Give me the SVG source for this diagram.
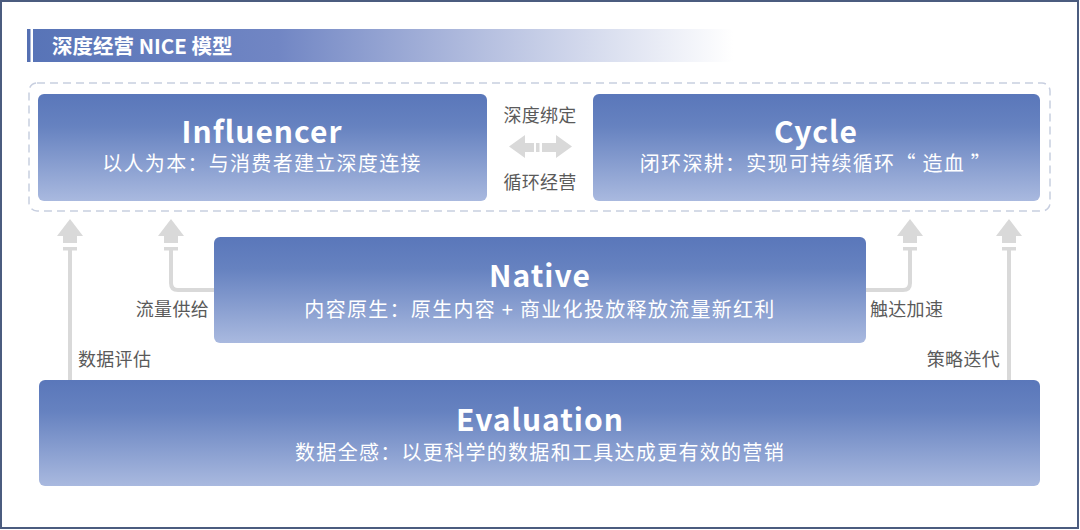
<svg xmlns="http://www.w3.org/2000/svg" width="1080" height="530" viewBox="0 0 1080 530">
<defs>
<linearGradient id="boxg" x1="0" y1="0" x2="0" y2="1">
<stop offset="0" stop-color="#5a77ba"/>
<stop offset="0.3" stop-color="#6682c0"/>
<stop offset="1" stop-color="#a9b9df"/>
</linearGradient>
<linearGradient id="titleg" x1="0" y1="0" x2="1" y2="0">
<stop offset="0" stop-color="#5874b7"/>
<stop offset="0.35" stop-color="#7186c4"/>
<stop offset="0.65" stop-color="#b6c0e0"/>
<stop offset="1" stop-color="#ffffff"/>
</linearGradient>
<g id="uphead">
<polygon points="-13,236 0,219 13,236"/>
<rect x="-7" y="235.5" width="14" height="7.5"/>
<rect x="-7" y="247" width="14" height="3.5"/>
</g>
<style>
.box{fill:url(#boxg)}
.t{font-family:"Noto Sans CJK SC","Noto Sans",sans-serif;font-weight:bold;font-size:30px;fill:#fff;text-anchor:middle;letter-spacing:1px}
.s{font-family:"Noto Sans CJK SC","Noto Sans",sans-serif;font-size:20px;fill:#fff;text-anchor:middle;letter-spacing:1.3px}
.lab{font-family:"Noto Sans CJK SC","Noto Sans",sans-serif;font-size:18px;fill:#5a5a5a;letter-spacing:0.3px}
.ln{fill:none;stroke:#d9d9d9;stroke-width:4}
.ah{fill:#d9d9d9}
</style>
</defs>
<rect x="0" y="0" width="1080" height="530" fill="#ffffff"/>
<rect x="1" y="1" width="1077" height="527" fill="none" stroke="#4b5c7f" stroke-width="2"/>

<g id="title">
<rect x="27" y="29" width="3.5" height="33" fill="#5570b2"/>
<rect x="33" y="29" width="700" height="33" fill="url(#titleg)"/>
<text x="52" y="54" font-family="'Noto Sans CJK SC','Noto Sans',sans-serif" font-weight="bold" font-size="20.5" fill="#fff">深度经营 NICE 模型</text>
</g>

<g id="container">
<rect x="29" y="83" width="1021" height="128" rx="8" fill="none" stroke="#c8cfe0" stroke-width="1.5" stroke-dasharray="8 5"/>
</g>

<g id="influencer">
<rect class="box" x="38" y="94" width="449" height="107" rx="6"/>
<text class="t" x="262" y="143">Influencer</text>
<text class="s" x="262" y="171">以人为本：与消费者建立深度连接</text>
</g>

<g id="cycle">
<rect class="box" x="593" y="94" width="447" height="107" rx="6"/>
<text class="t" x="816" y="143">Cycle</text>
<text class="s" x="816" y="171">闭环深耕：实现可持续循环“ 造血 ”</text>
</g>

<g id="native">
<rect class="box" x="214" y="237" width="652" height="106" rx="6"/>
<text class="t" x="540" y="287">Native</text>
<text class="s" x="540" y="317">内容原生：原生内容 + 商业化投放释放流量新红利</text>
</g>

<g id="evaluation">
<rect class="box" x="39" y="380" width="1001" height="106" rx="6"/>
<text class="t" x="540" y="431">Evaluation</text>
<text class="s" x="540" y="460">数据全感：以更科学的数据和工具达成更有效的营销</text>
</g>

<g id="connectors">
<g class="ah">
<polygon points="509,146.5 525,135 525,143 534,143 534,152 525,152 525,158"/>
<rect x="536" y="143" width="3.5" height="9"/>
<polygon points="572,146.5 556,135 556,143 542,143 542,152 556,152 556,158"/>
</g>
<use href="#uphead" class="ah" x="70" y="0"/>
<use href="#uphead" class="ah" x="171" y="0"/>
<use href="#uphead" class="ah" x="910" y="0"/>
<use href="#uphead" class="ah" x="1009" y="0"/>
<path class="ln" d="M70,250 V380"/>
<path class="ln" d="M171,250 V283 Q171,290 178,290 H214"/>
<path class="ln" d="M910,250 V283 Q910,290 903,290 H866"/>
<path class="ln" d="M1009,250 V380"/>
<text class="lab" x="540" y="122" text-anchor="middle">深度绑定</text>
<text class="lab" x="540" y="189" text-anchor="middle">循环经营</text>
<text class="lab" x="209" y="316" text-anchor="end">流量供给</text>
<text class="lab" x="78" y="366">数据评估</text>
<text class="lab" x="870" y="316">触达加速</text>
<text class="lab" x="1000" y="366" text-anchor="end">策略迭代</text>
</g>
</svg>
